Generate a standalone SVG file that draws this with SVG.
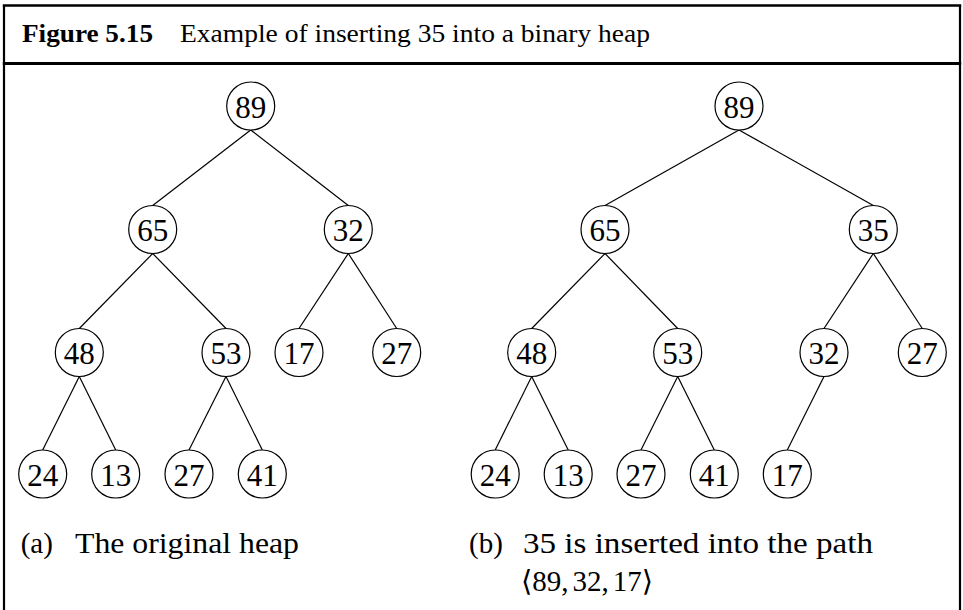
<svg xmlns="http://www.w3.org/2000/svg" width="963" height="610" viewBox="0 0 963 610">
  <style>
    .frame { fill: none; stroke: #000; }
    .node circle { fill: #fff; stroke: #000; stroke-width: 1.2; }
    .node text { font-family: "Liberation Serif", "DejaVu Serif", serif; font-size: 31px; text-anchor: middle; fill: #000; }
    .edges line { stroke: #000; stroke-width: 1.2; }
    .cap { font-family: "Liberation Serif", "DejaVu Serif", serif; font-size: 29px; fill: #000; }
    .head { font-family: "Liberation Serif", "DejaVu Serif", serif; font-size: 25px; fill: #000; }
  </style>
  <rect width="963" height="610" fill="#fff"/>

  <!-- figure frame -->
  <g id="frame">
    <line class="frame" x1="2.8" y1="5.5" x2="961.2" y2="5.5" stroke-width="2.5"/>
    <line class="frame" x1="4" y1="5.5" x2="4" y2="610" stroke-width="2.2"/>
    <line class="frame" x1="960" y1="5.5" x2="960" y2="610" stroke-width="2.2"/>
    <line class="frame" x1="2.8" y1="63.5" x2="961.2" y2="63.5" stroke-width="3"/>
  </g>

  <!-- caption header -->
  <g id="title">
    <text class="head" x="22" y="42" font-weight="bold" textLength="131" lengthAdjust="spacingAndGlyphs">Figure 5.15</text>
    <text class="head" x="180" y="42" textLength="470" lengthAdjust="spacingAndGlyphs">Example of inserting 35 into a binary heap</text>
  </g>

  <!-- tree edges: parent south to child north -->
  <g id="edges" class="edges">
    <!-- (a) -->
    <line x1="250.7" y1="130" x2="152.7" y2="205.5"/>
    <line x1="250.7" y1="130" x2="348.3" y2="205.5"/>
    <line x1="152.7" y1="253.5" x2="79.3" y2="328.5"/>
    <line x1="152.7" y1="253.5" x2="226" y2="328.5"/>
    <line x1="348.3" y1="253.5" x2="299" y2="328.5"/>
    <line x1="348.3" y1="253.5" x2="396.7" y2="328.5"/>
    <line x1="79.3" y1="376.5" x2="42.7" y2="450"/>
    <line x1="79.3" y1="376.5" x2="115.7" y2="450"/>
    <line x1="226" y1="376.5" x2="189" y2="450"/>
    <line x1="226" y1="376.5" x2="262.3" y2="450"/>
    <!-- (b) -->
    <line x1="739" y1="130" x2="605" y2="205.5"/>
    <line x1="739" y1="130" x2="873.3" y2="205.5"/>
    <line x1="605" y1="253.5" x2="531.7" y2="328.5"/>
    <line x1="605" y1="253.5" x2="677.7" y2="328.5"/>
    <line x1="873.3" y1="253.5" x2="824" y2="328.5"/>
    <line x1="873.3" y1="253.5" x2="922.3" y2="328.5"/>
    <line x1="531.7" y1="376.5" x2="495.2" y2="450"/>
    <line x1="531.7" y1="376.5" x2="568.2" y2="450"/>
    <line x1="677.7" y1="376.5" x2="641" y2="450"/>
    <line x1="677.7" y1="376.5" x2="714.3" y2="450"/>
    <line x1="824" y1="376.5" x2="787.3" y2="450"/>
  </g>

  <!-- (a) the original heap -->
  <g id="a-89" class="node"><circle cx="250.7" cy="106" r="24"/><text x="250.7" y="117.5">89</text></g>
  <g id="a-65" class="node"><circle cx="152.7" cy="229.5" r="24"/><text x="152.7" y="241">65</text></g>
  <g id="a-32" class="node"><circle cx="348.3" cy="229.5" r="24"/><text x="348.3" y="241">32</text></g>
  <g id="a-48" class="node"><circle cx="79.3" cy="352.5" r="24"/><text x="79.3" y="364">48</text></g>
  <g id="a-53" class="node"><circle cx="226" cy="352.5" r="24"/><text x="226" y="364">53</text></g>
  <g id="a-17" class="node"><circle cx="299" cy="352.5" r="24"/><text x="299" y="364">17</text></g>
  <g id="a-27" class="node"><circle cx="396.7" cy="352.5" r="24"/><text x="396.7" y="364">27</text></g>
  <g id="a-24" class="node"><circle cx="42.7" cy="474" r="24"/><text x="42.7" y="485.5">24</text></g>
  <g id="a-13" class="node"><circle cx="115.7" cy="474" r="24"/><text x="115.7" y="485.5">13</text></g>
  <g id="a-27b" class="node"><circle cx="189" cy="474" r="24"/><text x="189" y="485.5">27</text></g>
  <g id="a-41" class="node"><circle cx="262.3" cy="474" r="24"/><text x="262.3" y="485.5">41</text></g>

  <!-- (b) after inserting 35 -->
  <g id="b-89" class="node"><circle cx="739" cy="106" r="24"/><text x="739" y="117.5">89</text></g>
  <g id="b-65" class="node"><circle cx="605" cy="229.5" r="24"/><text x="605" y="241">65</text></g>
  <g id="b-35" class="node"><circle cx="873.3" cy="229.5" r="24"/><text x="873.3" y="241">35</text></g>
  <g id="b-48" class="node"><circle cx="531.7" cy="352.5" r="24"/><text x="531.7" y="364">48</text></g>
  <g id="b-53" class="node"><circle cx="677.7" cy="352.5" r="24"/><text x="677.7" y="364">53</text></g>
  <g id="b-32" class="node"><circle cx="824" cy="352.5" r="24"/><text x="824" y="364">32</text></g>
  <g id="b-27" class="node"><circle cx="922.3" cy="352.5" r="24"/><text x="922.3" y="364">27</text></g>
  <g id="b-24" class="node"><circle cx="495.2" cy="474" r="24"/><text x="495.2" y="485.5">24</text></g>
  <g id="b-13" class="node"><circle cx="568.2" cy="474" r="24"/><text x="568.2" y="485.5">13</text></g>
  <g id="b-27b" class="node"><circle cx="641" cy="474" r="24"/><text x="641" y="485.5">27</text></g>
  <g id="b-41" class="node"><circle cx="714.3" cy="474" r="24"/><text x="714.3" y="485.5">41</text></g>
  <g id="b-17" class="node"><circle cx="787.3" cy="474" r="24"/><text x="787.3" y="485.5">17</text></g>

  <!-- sub-captions -->
  <g id="captions">
    <text class="cap" x="20.7" y="553">(a)</text>
    <text class="cap" x="75" y="553" textLength="224" lengthAdjust="spacingAndGlyphs">The original heap</text>
    <text class="cap" x="469" y="553">(b)</text>
    <text class="cap" x="523" y="553" textLength="350" lengthAdjust="spacingAndGlyphs">35 is inserted into the path</text>
    <text class="cap" x="521" y="591" font-size="28">⟨89,<tspan dx="4">32,</tspan><tspan dx="4">17</tspan>⟩</text>
  </g>
</svg>
